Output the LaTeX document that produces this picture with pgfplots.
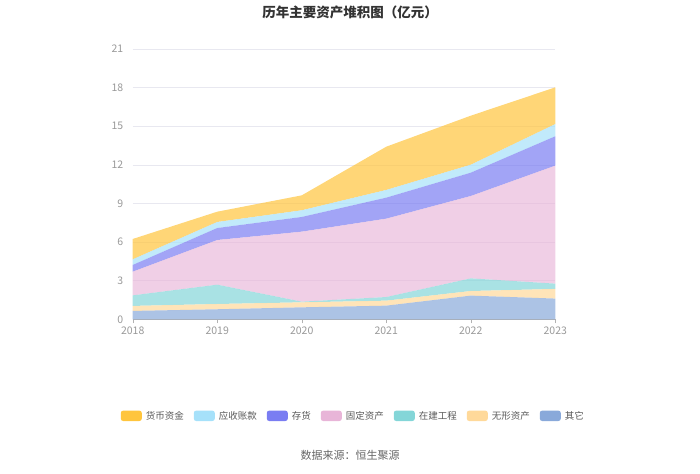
\documentclass[border=0pt]{standalone}
\usepackage{pgfplots}
\pgfplotsset{compat=1.18}
\usepackage{fontspec}
\setmainfont{Noto Sans CJK SC}
\definecolor{cCash}{HTML}{FFC53D}
\definecolor{cRec}{HTML}{A6E1FA}
\definecolor{cInv}{HTML}{7A7DF2}
\definecolor{cFix}{HTML}{E8B5D8}
\definecolor{cCon}{HTML}{84D6D8}
\definecolor{cInt}{HTML}{FFD99A}
\definecolor{cOth}{HTML}{89A9DA}
\definecolor{tickgray}{HTML}{999999}
\begin{document}
\begin{tikzpicture}[x=1pt,y=1pt]
\path[use as bounding box] (0,0) rectangle (700,-473);
\node[font=\bfseries\fontsize{13.5}{15}\selectfont, text=black!80] at (350,-12) {历年主要资产堆积图（亿元）};
\begin{axis}[
  at={(132.7pt,-319.3pt)}, anchor=south west,
  width=422.6pt, height=270.3pt, scale only axis,
  xmin=2018, xmax=2023, ymin=0, ymax=21,
  xtick={2018,...,2023}, ytick={0,3,...,21},
  xticklabel style={/pgf/number format/1000 sep={}},
  /pgf/number format/assume math mode=true,
  ticklabel style={font=\fontsize{10.5}{12}\selectfont, text=tickgray},
  yticklabel style={xshift=-2pt},
  axis y line=left, axis x line=bottom,
  y axis line style={draw=none},
  x axis line style={draw=gray!60, -},
  ytick style={draw=none},
  xtick style={draw=gray!60},
  tick align=outside, major tick length=4pt,
  ymajorgrids, grid style={draw=blue!20!gray!15},
  stack plots=y,
  legend columns=7,
  legend style={at={(0.522,-0.358)}, anchor=center, draw=none, fill=none,
    font=\fontsize{9.5}{11}\selectfont, text=black!65,
    /tikz/every odd column/.append style={column sep=2pt},
    /tikz/every even column/.append style={column sep=8pt}},
  legend image code/.code={\fill[rounded corners=2.5pt] (0pt,-5pt) rectangle (21pt,5.5pt);},
  clip=false,
]
\addlegendimage{fill=cCash, draw=none}\addlegendentry{货币资金}
\addlegendimage{fill=cRec, draw=none}\addlegendentry{应收账款}
\addlegendimage{fill=cInv, draw=none}\addlegendentry{存货}
\addlegendimage{fill=cFix, draw=none}\addlegendentry{固定资产}
\addlegendimage{fill=cCon, draw=none}\addlegendentry{在建工程}
\addlegendimage{fill=cInt, draw=none}\addlegendentry{无形资产}
\addlegendimage{fill=cOth, draw=none}\addlegendentry{其它}
% 其它
\addplot[draw=none, fill=cOth, fill opacity=0.7, forget plot] coordinates {(2018,0.65) (2019,0.78) (2020,0.93) (2021,1.06) (2022,1.84) (2023,1.61)} \closedcycle;
% 无形资产
\addplot[draw=none, fill=cInt, fill opacity=0.7, forget plot] coordinates {(2018,0.39) (2019,0.41) (2020,0.39) (2021,0.39) (2022,0.36) (2023,0.75)} \closedcycle;
% 在建工程
\addplot[draw=none, fill=cCon, fill opacity=0.7, forget plot] coordinates {(2018,0.82) (2019,1.50) (2020,0.05) (2021,0.28) (2022,0.98) (2023,0.41)} \closedcycle;
% 固定资产
\addplot[draw=none, fill=cFix, fill opacity=0.65, forget plot] coordinates {(2018,1.84) (2019,3.47) (2020,5.44) (2021,6.09) (2022,6.40) (2023,9.17)} \closedcycle;
% 存货
\addplot[draw=none, fill=cInv, fill opacity=0.7, forget plot] coordinates {(2018,0.52) (2019,0.93) (2020,1.14) (2021,1.63) (2022,1.81) (2023,2.28)} \closedcycle;
% 应收账款
\addplot[draw=none, fill=cRec, fill opacity=0.7, forget plot] coordinates {(2018,0.44) (2019,0.47) (2020,0.52) (2021,0.60) (2022,0.62) (2023,0.95)} \closedcycle;
% 货币资金
\addplot[draw=none, fill=cCash, fill opacity=0.7, forget plot] coordinates {(2018,1.58) (2019,0.80) (2020,1.16) (2021,3.36) (2022,3.81) (2023,2.85)} \closedcycle;
\end{axis}
\node[font=\fontsize{11}{13}\selectfont, text=black!60] at (350,-455) {数据来源：恒生聚源};
\end{tikzpicture}
\end{document}
